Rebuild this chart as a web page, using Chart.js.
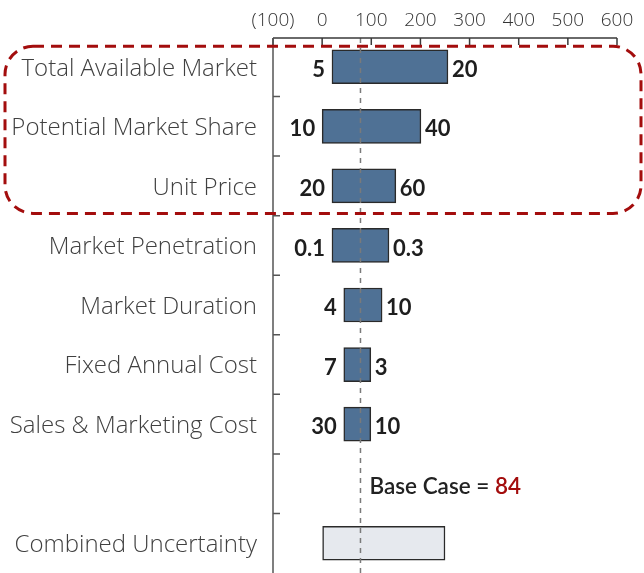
<!DOCTYPE html>
<html>
<head>
<meta charset="utf-8">
<script src="https://cdn.jsdelivr.net/npm/chart.js@4.4.1/dist/chart.umd.min.js"></script>
<style>
html,body{margin:0;padding:0;background:#fff;overflow:hidden;}
canvas{display:block;}
</style>
</head>
<body>
<canvas id="c" width="644" height="573"></canvas>
<script>
const categories = ['Total Available Market','Potential Market Share','Unit Price','Market Penetration','Market Duration','Fixed Annual Cost','Sales & Marketing Cost','','Combined Uncertainty'];
const barStart = [20, 0, 20, 20, 44, 44, 44, null, 1];
const barEnd   = [256, 201, 150, 136, 122, 99, 99, null, 250];
const lowLabels  = ['5','10','20','0.1','4','7','30','',''];
const highLabels = ['20','40','60','0.3','10','3','10','',''];
const baseCaseValue = 84;
const baseLinePosition = 78;
const xTickValues = [-100,0,100,200,300,400,500,600];
const highlightRows = [0, 2];

const FONT = 'Lato, "Open Sans", sans-serif';
const LABEL_FONT = '"Open Sans", Lato, sans-serif';
const barColors = categories.map((c,i)=> i === categories.length-1 ? '#e6e9ee' : '#4f7195');

const overlay = {
  id: 'overlay',
  afterDatasetsDraw(chart) {
    const {ctx, chartArea, scales} = chart;
    const xs = scales.x, ys = scales.y;
    ctx.save();
    const ay = chartArea.top + 1;
    const bx = xs.getPixelForValue(baseLinePosition);
    ctx.strokeStyle = '#7a7a7a';
    ctx.lineWidth = 1.5;
    ctx.setLineDash([5,5]);
    ctx.beginPath();
    ctx.moveTo(bx, ay);
    ctx.lineTo(bx, chartArea.bottom + 2);
    ctx.stroke();
    ctx.setLineDash([]);

    ctx.strokeStyle = '#3a3a3a';
    ctx.lineWidth = 1.5;
    ctx.beginPath();
    ctx.moveTo(xs.getPixelForValue(xTickValues[0]), ay);
    ctx.lineTo(xs.getPixelForValue(xTickValues[xTickValues.length-1]), ay);
    xTickValues.forEach(v => {
      const px = xs.getPixelForValue(v);
      ctx.moveTo(px, ay);
      ctx.lineTo(px, ay + 7);
    });
    ctx.stroke();
    const lx = chartArea.left;
    ctx.strokeStyle = '#555';
    ctx.beginPath();
    ctx.moveTo(lx, ay);
    ctx.lineTo(lx, chartArea.bottom + 4);
    for (let i = 1; i < categories.length; i++) {
      const py = (ys.getPixelForValue(i-1) + ys.getPixelForValue(i)) / 2;
      ctx.moveTo(lx, py);
      ctx.lineTo(lx + 7, py);
    }
    ctx.stroke();

    const meta = chart.getDatasetMeta(0);
    ctx.font = 'bold 22px ' + FONT;
    ctx.fillStyle = '#1e1e1e';
    ctx.textBaseline = 'middle';
    meta.data.forEach((el, i) => {
      if (barStart[i] === null) return;
      const p = el.getProps(['x','base','y'], true);
      const l = Math.min(p.x, p.base), r = Math.max(p.x, p.base);
      ctx.textAlign = 'right';
      ctx.fillText(lowLabels[i], l - 7, p.y + 3);
      ctx.textAlign = 'left';
      ctx.fillText(highLabels[i], r + 4, p.y + 3);
    });

    const ty = ys.getPixelForValue(7) + 3;
    ctx.font = '600 22.5px ' + FONT;
    ctx.textAlign = 'left';
    const t1 = 'Base Case = ';
    const tx = bx + 9;
    ctx.fillStyle = '#222';
    ctx.fillText(t1, tx, ty);
    ctx.fillStyle = '#a30d0d';
    ctx.fillText(String(baseCaseValue), tx + ctx.measureText(t1).width, ty);

    const top = ys.getPixelForValue(highlightRows[0]) - 20.5;
    const bottom = ys.getPixelForValue(highlightRows[1]) + 27.5;
    const left = 5, right = 641, rad = 28;
    ctx.strokeStyle = '#a30d0d';
    ctx.lineWidth = 3;
    ctx.setLineDash([11,7]);
    ctx.beginPath();
    ctx.roundRect(left, top, right-left, bottom-top, rad);
    ctx.stroke();
    ctx.restore();
  }
};

new Chart(document.getElementById('c'), {
  type: 'bar',
  data: {
    labels: categories,
    datasets: [{
      data: barStart.map((s,i)=> s === null ? null : [s, barEnd[i]]),
      backgroundColor: barColors,
      borderColor: '#2a2a2a',
      borderWidth: 1.5,
      borderSkipped: false,
      barThickness: 34
    }]
  },
  options: {
    indexAxis: 'y',
    responsive: false,
    animation: false,
    layout: { padding: { left: 0, right: 27, top: 0, bottom: 0 } },
    plugins: { legend: { display: false }, tooltip: { enabled: false } },
    scales: {
      x: {
        position: 'top',
        min: -100, max: 600,
        afterBuildTicks(scale) { scale.ticks = xTickValues.map(v => ({value: v})); },
        afterFit(scale) { scale.height = 37; scale.paddingLeft = 0; scale.paddingRight = 0; scale.paddingTop = 0; scale.paddingBottom = 0; },
        grid: { display: false, drawTicks: false },
        border: { display: false },
        ticks: {
          padding: 5,
          autoSkip: false,
          maxRotation: 0,
          minRotation: 0,
          color: '#333',
          font: { family: LABEL_FONT, size: 19, weight: '300' },
          callback: v => v < 0 ? '(' + Math.abs(v) + ')' : String(v)
        }
      },
      y: {
        afterFit(scale) { scale.width = 273; scale.paddingTop = 0; scale.paddingBottom = 0; scale.paddingLeft = 0; scale.paddingRight = 0; },
        grid: { display: false, drawTicks: false },
        border: { display: false },
        ticks: {
          padding: 16,
          labelOffset: 2,
          autoSkip: false,
          color: '#404040',
          font: { family: LABEL_FONT, size: 24, weight: '300' }
        }
      }
    }
  },
  plugins: [overlay]
});
</script>
</body>
</html>
